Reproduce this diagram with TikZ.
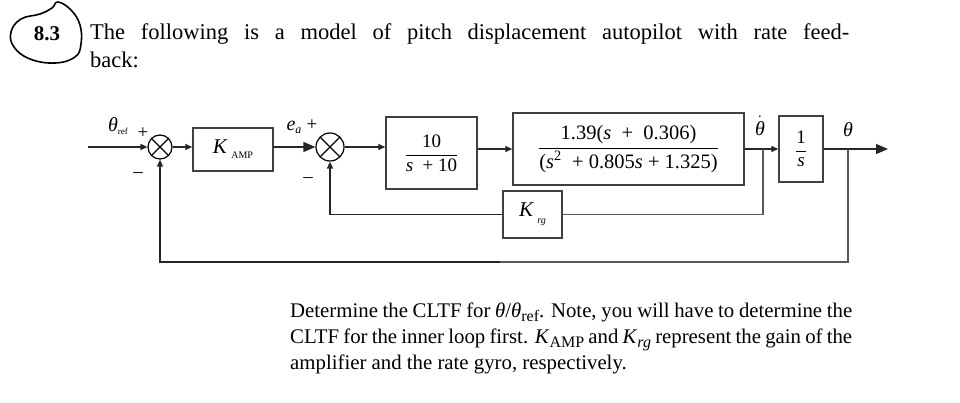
\documentclass[tikz,border=0pt]{standalone}
\usepackage{fontspec}
\setmainfont{Liberation Serif}
\usetikzlibrary{arrows.meta}
\begin{document}
\begin{tikzpicture}[x=1pt,y=-1pt,
  txt/.style={inner sep=0pt, font=\fontsize{22.5}{26}\selectfont},
  btxt/.style={inner sep=0pt, font=\fontsize{20.8}{26}\selectfont},
  blk/.style={draw=black!75, line width=1.4pt, inner sep=0pt, font=\fontsize{19}{22}\selectfont},
  sumj/.style={draw=black, circle, line width=1.2pt, minimum size=#1, inner sep=0pt,
    path picture={\draw[line width=1.1pt] (path picture bounding box.north west) -- (path picture bounding box.south east)
      (path picture bounding box.north east) -- (path picture bounding box.south west);}},
  sig/.style={line width=1.3pt, draw=black!85, -{Triangle[length=7pt,width=6pt]}},
  bigsig/.style={line width=1.3pt, draw=black!85, -{Triangle[length=12pt,width=10pt]}},
  fb/.style={line width=1.3pt, draw=black!65},
  lbl/.style={inner sep=0pt, font=\fontsize{20}{22}\selectfont},
  sgn/.style={inner sep=0pt, font=\fontsize{19}{20}\selectfont}]
\useasboundingbox (0,0) rectangle (960,402);

% problem number with hand-drawn loop
\draw[line width=1.6pt] plot[smooth cycle, tension=0.7] coordinates {(58,2) (71,10) (80,25) (81,44) (75,57) (55,63) (30,59) (14,47) (11,32) (21,19) (40,14) (52,8)};
\node[txt, anchor=base, font=\fontsize{21}{24}\selectfont\bfseries] (num) at (47,40) {8.3};

% text above
\node[txt, anchor=base west] (l1) at (90,39) {\makebox[759pt][s]{The following is a model of pitch displacement autopilot with rate feed-}};
\node[txt, anchor=base west] (l2) at (90,67) {back:};

% diagram
\coordinate (in) at (88,147);
\node[sumj=24pt] (s1) at (160,147) {};
\node[blk, minimum width=80pt, minimum height=43pt] (ka) at (233,149.5) {\fontsize{21}{22}\selectfont\textit{K}\,\raisebox{-5pt}{\fontsize{10}{10}\selectfont AMP}};
\node[sumj=28pt] (s2) at (330,147) {};
\node[blk, minimum width=91pt, minimum height=72pt] (b3) at (431.5,153) {$\displaystyle\frac{\hbox{10}}{\hbox{\itshape s\upshape\enspace+ 10}}$};
\node[blk, minimum width=231pt, minimum height=72pt, font=\fontsize{20.5}{22}\selectfont] (b2) at (628.5,149) {$\displaystyle\frac{\hbox{1.39(\textit{s}\enspace+\enspace0.306)}}{\hbox{(\textit{s}\textsuperscript{2}\enspace+ 0.805\textit{s} + 1.325)}}$};
\node[blk, minimum width=44pt, minimum height=66pt] (ones) at (801,149) {$\displaystyle\frac{\hbox{1}}{\hbox{\itshape s}}$};
\node[blk, minimum width=59pt, minimum height=47pt] (krg) at (532.5,214.5) {\fontsize{21}{22}\selectfont\textit{K}\,\raisebox{-7pt}{\fontsize{10}{10}\selectfont\itshape rg}};
\coordinate (br1) at (763,149);
\coordinate (br2) at (848,149);
\coordinate (out) at (888,149);
\coordinate (c262) at (500,262);

\draw[sig] (in) -- (s1.west);
\draw[sig] (s1.east) -- (s1.east -| ka.west);
\draw[bigsig] (ka.east |- s2.west) -- (s2.west);
\draw[sig] (s2.east) -- (s2.east -| b3.west);
\draw[sig] (b3.east |- b2.west) -- (b2.west);
\draw[sig] (b2.east) -- (ones.west);
\draw[bigsig] (ones.east) -- (out);
\draw[fb] (br1) |- (krg.east);
\draw[sig] (krg.west) -| (s2.south);
\draw[fb] (br2) |- (c262);
\draw[sig] (c262) -| (s1.south);

% labels
\node[lbl, anchor=base] (thr) at (118,131) {\textit{θ}\raisebox{-3pt}{\fontsize{9}{10}\selectfont ref}};
\node[sgn] (p1) at (143,133) {+};
\node[sgn] (m1) at (138,175) {\textendash};
\node[lbl, anchor=base] (ea) at (294,130) {\textit{e}\raisebox{-3pt}{\fontsize{12}{12}\selectfont\itshape a}};
\node[sgn] (p2) at (312,125) {+};
\node[sgn] (m2) at (308,180) {\textendash};
\node[lbl, anchor=base] (thd) at (760,135) {$\dot{\hbox{\itshape θ}}$};
\node[lbl, anchor=base] (th) at (848,136) {\textit{θ}};

% text below
\node[btxt, anchor=base west] (l3) at (290,317) {\makebox[562pt][s]{Determine the CLTF for \textit{θ}/\textit{θ}\raisebox{-4pt}{\fontsize{16}{16}\selectfont ref}. Note, you will have to determine the}};
\node[btxt, anchor=base west] (l4) at (290,343) {\makebox[562pt][s]{CLTF for the inner loop first. \textit{K}\raisebox{-4pt}{\fontsize{16}{16}\selectfont AMP} and \textit{K}\raisebox{-4pt}{\fontsize{16}{16}\selectfont\itshape rg} represent the gain of the}};
\node[btxt, anchor=base west] (l5) at (290,369) {amplifier and the rate gyro, respectively.};
\end{tikzpicture}
\end{document}
